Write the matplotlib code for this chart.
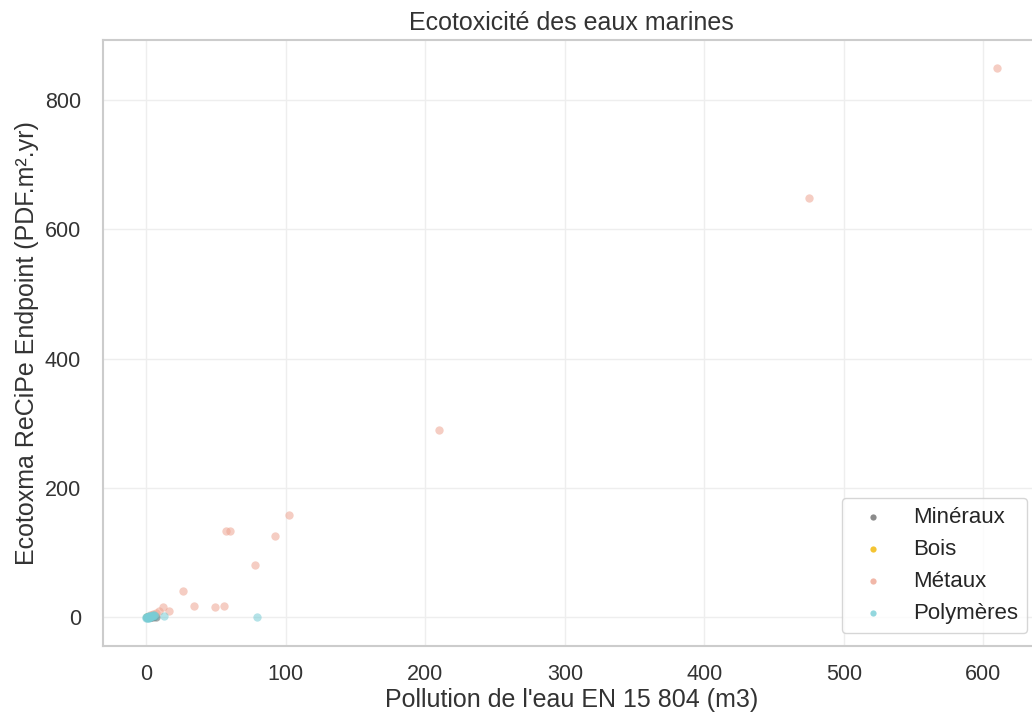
import matplotlib
matplotlib.use("Agg")
import matplotlib.pyplot as plt
import seaborn as sns

sns.set_theme(style="whitegrid", font_scale=1.35)
plt.rcParams['font.family'] = ['Liberation Sans', 'DejaVu Sans']

title = "Ecotoxicité des eaux marines"
xlabel = "Pollution de l'eau EN 15 804 (m3)"
ylabel = "Ecotoxma ReCiPe Endpoint (PDF.m².yr)"

categories = ["Minéraux", "Bois", "Métaux", "Polymères"]
colors = ["#6e6e6e", "#f2b600", "#eea592", "#78cdd6"]

mineraux_x = [0.5, 1.5, 2.5, 3.5, 4.5, 5.5, 6.5, 7.0, 3.0, 5.0]
mineraux_y = [0.2, 0.5, 0.8, 1.0, 1.2, 1.5, 1.2, 0.8, 0.3, 0.6]

bois_x = [0.3, 0.8, 1.2, 2.0]
bois_y = [0.1, 0.2, 0.3, 0.4]

metaux_x = [610, 475, 210, 102, 57, 60, 92, 78, 26, 34, 49, 56, 12, 16, 9, 5, 7, 3, 4]
metaux_y = [850, 649, 290, 158, 133, 133, 125, 80, 40, 17, 15, 17, 15, 10, 9, 5, 6, 3, 4]

polymeres_x = [79, 13, 0, -0.5, 0.5, 1, 1.5, 2, 2.5, 3, 3.5, 4, 4.5, 5, 5.5, 6, 1, 2, 3, 0.2, 0.8, 1.8]
polymeres_y = [0, 2, -2, 0, -1, 1, 0, 2, 1, 0, 2.5, 1.5, 3, 2, 3, 2.5, -1.5, -1, 1, 1, 0.5, 1.5]

xs = [mineraux_x, bois_x, metaux_x, polymeres_x]
ys = [mineraux_y, bois_y, metaux_y, polymeres_y]

fig = plt.figure(figsize=(10.32, 7.18), dpi=100)
W, H = 1032, 718
left, right, top, bottom = 103, 1040, 40, 646
ax = fig.add_axes([left / W, (H - bottom) / H, (right - left) / W, (bottom - top) / H])

for cat, col, x, y in zip(categories, colors, xs, ys):
    ax.scatter(x, y, s=36, color=col, alpha=0.55, linewidths=0, label=cat)

ax.set_title(title, fontsize=18, color="#333333", pad=7)
ax.set_xlabel(xlabel, fontsize=18, color="#333333", labelpad=2)
ax.set_ylabel(ylabel, fontsize=18, color="#333333")
ax.tick_params(labelsize=15.5, colors="#333333")
ax.tick_params(axis="y", pad=10)
ax.tick_params(axis="x", pad=7)
ax.set_xticks([0, 100, 200, 300, 400, 500, 600])
ax.set_yticks([0, 200, 400, 600, 800])
ax.grid(color="#eeeeee", linewidth=1)
for sp in ax.spines.values():
    sp.set_color("#cccccc")
    sp.set_linewidth(1.5)

leg = ax.legend(loc="lower right", bbox_to_anchor=(1027 / W, (H - 633) / H),
                bbox_transform=fig.transFigure, fontsize=16,
                frameon=True, markerscale=0.75, borderaxespad=0.0)
for h in leg.legend_handles:
    h.set_alpha(0.8)

fig.savefig("out.png", dpi=100)
